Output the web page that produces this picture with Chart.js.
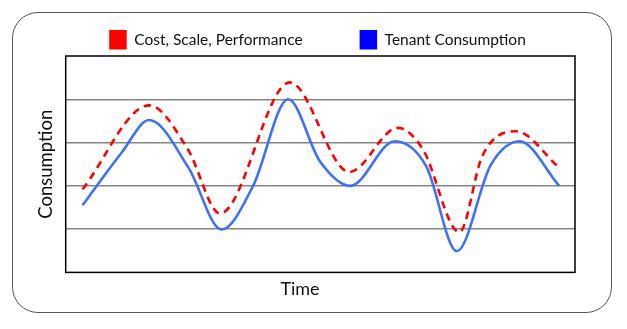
<!DOCTYPE html>
<html>
<head>
<meta charset="utf-8">
<script src="https://cdn.jsdelivr.net/npm/chart.js@4/dist/chart.umd.min.js"></script>
<style>
  html, body { margin: 0; padding: 0; background: #fff; }
  #wrap { position: relative; width: 627px; height: 329px; }
  #frame {
    position: absolute; left: 12px; top: 12px; width: 598px; height: 299px;
    border: 1.5px solid #555; border-radius: 26px;
  }
  canvas { position: absolute; left: 0; top: 0; }
</style>
</head>
<body>
<div id="wrap">
  <div id="frame"></div>
  <canvas id="c" width="627" height="329"></canvas>
</div>
<script>
// Time positions (0-100 across the period) and consumption levels (0-5)
const tenantTime  = [3.3, 11.0, 16.4, 24.1, 30.6, 36.8, 43.7, 49.9, 55.9, 64.6, 70.8, 76.8, 83.5, 89.1, 96.9];
const tenantLevel = [1.55, 2.77, 3.52, 2.42, 0.99, 2.0, 4.0, 2.57, 2.0, 3.03, 2.45, 0.49, 2.49, 3.03, 2.0];

const capacityTime  = [3.3, 16.4, 24.0, 30.3, 44.0, 55.7, 65.2, 70.1, 77.3, 81.8, 88.4, 96.9];
const capacityLevel = [1.92, 3.86, 2.84, 1.36, 4.39, 2.32, 3.34, 2.85, 0.93, 2.69, 3.26, 2.42];

const seriesNames   = ['Cost, Scale, Performance', 'Tenant Consumption'];
const legendColors  = ['#ff0000', '#0000ff'];
const yTicks = [0, 1, 2, 3, 4, 5];

const toPoints = (xs, ys) => xs.map((x, i) => ({ x, y: ys[i] }));

const FONT = 'Lato, "Open Sans", sans-serif';

// Draws the plot frame and the legend row above it
const decorations = {
  id: 'decorations',
  afterDraw(chart) {
    const { ctx, chartArea: a } = chart;
    ctx.save();
    ctx.strokeStyle = '#000';
    ctx.lineWidth = 1.5;
    ctx.strokeRect(a.left, a.top, a.right - a.left, a.bottom - a.top);

    ctx.font = '15.5px ' + FONT;
    ctx.textBaseline = 'middle';
    const boxW = 17.5, boxH = 19.5, gap = 7.5, spacing = 57;
    const widths = seriesNames.map(t => ctx.measureText(t).width);
    const total = widths.reduce((s, w) => s + boxW + gap + w, 0) + spacing * (seriesNames.length - 1);
    let x = 317.5 - total / 2;
    const top = 30;
    seriesNames.forEach((name, i) => {
      ctx.fillStyle = legendColors[i];
      ctx.fillRect(x, top, boxW, boxH);
      ctx.fillStyle = '#111';
      ctx.fillText(name, x + boxW + gap, top + boxH / 2 + 0.5);
      x += boxW + gap + widths[i] + spacing;
    });
    ctx.restore();
  }
};

new Chart(document.getElementById('c'), {
  type: 'line',
  data: {
    datasets: [
      {
        label: seriesNames[0],
        data: toPoints(capacityTime, capacityLevel),
        borderColor: '#ff0000',
        borderWidth: 2.6,
        borderDash: [7.5, 5.5],
        pointRadius: 0,
        cubicInterpolationMode: 'monotone',
        fill: false
      },
      {
        label: seriesNames[1],
        data: toPoints(tenantTime, tenantLevel),
        borderColor: '#3f70f8',
        borderWidth: 2.6,
        pointRadius: 0,
        cubicInterpolationMode: 'monotone',
        fill: false
      }
    ]
  },
  options: {
    responsive: false,
    animation: false,
    devicePixelRatio: 1,
    layout: { padding: { left: 25, right: 52, top: 56, bottom: 29 } },
    plugins: {
      legend: { display: false },
      tooltip: { enabled: false },
      title: {
        display: true,
        position: 'bottom',
        text: 'Time',
        color: '#111',
        font: { family: FONT, size: 18, weight: 'normal' },
        padding: { top: 6, bottom: 0 }
      }
    },
    scales: {
      x: {
        type: 'linear',
        min: 0,
        max: 100,
        ticks: { display: false },
        grid: { display: false, drawTicks: false },
        border: { display: false }
      },
      y: {
        min: yTicks[0],
        max: yTicks[yTicks.length - 1],
        afterBuildTicks: s => { s.ticks = yTicks.map(v => ({ value: v })); },
        ticks: { display: false },
        grid: {
          drawTicks: false,
          lineWidth: 1.5,
          color: c => (c.tick.value === yTicks[0] || c.tick.value === yTicks[yTicks.length - 1]) ? 'rgba(0,0,0,0)' : '#858585'
        },
        border: { display: false },
        title: {
          display: true,
          text: 'Consumption',
          color: '#111',
          font: { family: FONT, size: 18.5, weight: 'normal' },
          padding: { top: 9.5, bottom: 9 }
        }
      }
    }
  },
  plugins: [decorations]
});
</script>
</body>
</html>
